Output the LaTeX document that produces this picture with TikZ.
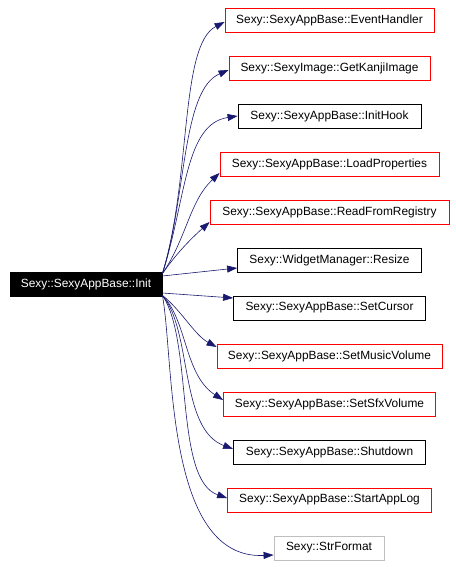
\documentclass[tikz,border=0pt]{standalone}
\usepackage{fontspec}
\setmainfont{Liberation Sans}
\usetikzlibrary{arrows.meta}
\definecolor{callblue}{HTML}{191970}
\definecolor{extgrey}{HTML}{BFBFBF}

\begin{document}
\begin{tikzpicture}[
    x=1pt, y=1pt,
    every node/.style={rectangle, draw, line width=0.8pt, minimum height=24pt, inner xsep=0pt, inner ysep=0pt, font=\fontsize{11.9}{14}\selectfont},
    doc/.style={draw=red},
    undoc/.style={draw=black},
    ext/.style={draw=extgrey},
    call/.style={draw=callblue, line width=0.6pt, -{Triangle[length=10pt,width=7pt]}}
]
\useasboundingbox (0,0) rectangle (455,-567);

\node[fill=black, text=white, minimum width=152pt] (init) at (86,-284) {Sexy::SexyAppBase::Init};

\node[doc, minimum width=209pt] (evt) at (329.5,-20) {Sexy::SexyAppBase::EventHandler};
\node[doc, minimum width=201pt] (kanji) at (329.5,-68) {Sexy::SexyImage::GetKanjiImage};
\node[undoc, minimum width=183pt] (hook) at (329.5,-116) {Sexy::SexyAppBase::InitHook};
\node[doc, minimum width=219pt] (props) at (329.5,-164) {Sexy::SexyAppBase::LoadProperties};
\node[doc, minimum width=239pt] (reg) at (329.5,-212) {Sexy::SexyAppBase::ReadFromRegistry};
\node[undoc, minimum width=184pt] (resize) at (329.5,-260) {Sexy::WidgetManager::Resize};
\node[undoc, minimum width=192pt] (cursor) at (329.5,-308) {Sexy::SexyAppBase::SetCursor};
\node[doc, minimum width=225pt] (music) at (329.5,-356) {Sexy::SexyAppBase::SetMusicVolume};
\node[doc, minimum width=212pt] (sfx) at (329.5,-404) {Sexy::SexyAppBase::SetSfxVolume};
\node[undoc, minimum width=192pt] (shut) at (329.5,-452) {Sexy::SexyAppBase::Shutdown};
\node[doc, minimum width=204pt] (log) at (329.5,-500) {Sexy::SexyAppBase::StartAppLog};
\node[ext, minimum width=110pt] (strfmt) at (329,-548) {Sexy::StrFormat};

% calls going up
\draw[call] ([yshift=-2pt]init.north east) .. controls +(29,95) and +(-45,-23) .. ([yshift=-2pt]evt.west);
\draw[call] ([yshift=-2pt]init.north east) .. controls +(24,75) and +(-47,-20) .. ([yshift=-2pt]kanji.west);
\draw[call] ([yshift=-2pt]init.north east) .. controls +(24,75) and +(-53,-8) .. (hook.west);
\draw[call] ([yshift=-2pt]init.north east) .. controls +(24,35) and +(-30,-28) .. ([yshift=-9pt]props.west);
\draw[call] ([yshift=-2pt]init.north east) .. controls +(14,20) and +(-20,-18) .. ([yshift=-10pt]reg.west);
% nearly straight calls
\draw[call] ([yshift=8pt]init.east) -- ([yshift=-8pt]resize.west);
\draw[call] ([yshift=-9pt]init.east) -- ([yshift=10pt]cursor.west);
% calls going down
\draw[call] ([yshift=1pt]init.south east) .. controls +(19,-15) and +(-22,12) .. ([yshift=9pt]music.west);
\draw[call] ([yshift=1pt]init.south east) .. controls +(25,-25) and +(-39,25) .. ([yshift=4pt]sfx.west);
\draw[call] ([yshift=1pt]init.south east) .. controls +(30,-35) and +(-54,20) .. ([yshift=3pt]shut.west);
\draw[call] ([yshift=1pt]init.south east) .. controls +(31,-45) and +(-53,18) .. ([yshift=2pt]log.west);
\draw[call] ([yshift=1pt]init.south east) .. controls +(12,-65) and +(-109,-5) .. ([yshift=-7pt]strfmt.west);
\end{tikzpicture}
\end{document}
